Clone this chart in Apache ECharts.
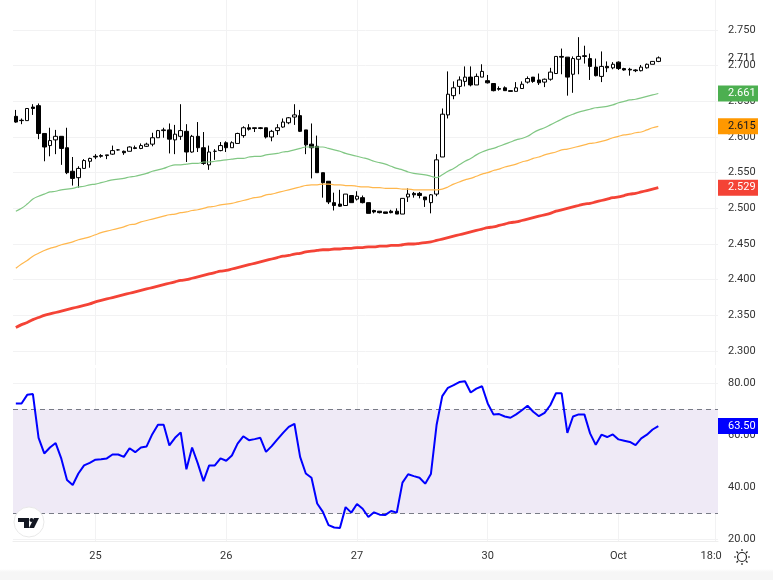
<!DOCTYPE html>
<html>
<head>
<meta charset="utf-8">
<title>Chart</title>
<script src="https://cdn.jsdelivr.net/npm/echarts@6/dist/echarts.min.js"></script>
<style>
  html, body { margin: 0; padding: 0; height: 100%; background: linear-gradient(#fff 569px, #f6f6f6 572px); }
  #chart { width: 773px; height: 580px; }
</style>
</head>
<body>
<div id="chart"></div>
<script>
// candles
var opens = [
  2.629,2.6235,2.623,2.642,2.644,2.605,2.588,2.596,2.601,2.585,
  2.552,2.543,2.556,2.566,2.573,2.574,2.574,2.576,2.582,2.580,
  2.580,2.585,2.584,2.587,2.590,2.599,2.609,2.610,2.596,2.601,
  2.608,2.579,2.601,2.585,2.561,2.580,2.581,2.592,2.585,2.591,
  2.602,2.613,2.613,2.613,2.613,2.600,2.609,2.614,2.620,2.628,
  2.630,2.610,2.590,2.587,2.550,2.538,2.508,2.506,2.504,2.518,
  2.513,2.515,2.508,2.497,2.496,2.495,2.496,2.496,2.492,2.516,
  2.521,2.521,2.516,2.508,2.520,2.572,2.631,2.658,2.671,2.678,
  2.684,2.673,2.684,2.679,2.675,2.668,2.669,2.665,2.664,2.668,
  2.677,2.684,2.680,2.677,2.681,2.689,2.713,2.712,2.688,2.709,
  2.714,2.710,2.698,2.685,2.699,2.697,2.705,2.696,2.695,2.694,
  2.693,2.697,2.702,2.706
];
var closes = [
  2.621,2.623,2.640,2.640,2.605,2.586,2.595,2.601,2.584,2.550,
  2.542,2.556,2.567,2.570,2.572,2.573,2.575,2.581,2.582,2.578,
  2.586,2.584,2.588,2.590,2.599,2.609,2.610,2.597,2.604,2.609,
  2.579,2.601,2.585,2.563,2.579,2.580,2.588,2.585,2.592,2.605,
  2.613,2.611,2.612,2.612,2.600,2.608,2.613,2.621,2.627,2.631,
  2.608,2.589,2.585,2.550,2.536,2.509,2.504,2.503,2.520,2.508,
  2.517,2.508,2.493,2.495,2.494,2.493,2.494,2.492,2.514,2.520,
  2.519,2.518,2.512,2.519,2.568,2.632,2.660,2.669,2.680,2.684,
  2.673,2.685,2.692,2.676,2.665,2.667,2.665,2.664,2.669,2.674,
  2.682,2.678,2.676,2.681,2.691,2.713,2.712,2.684,2.710,2.713,
  2.713,2.699,2.686,2.699,2.697,2.702,2.696,2.694,2.694,2.693,
  2.698,2.702,2.706,2.711
];
var lows = [
  2.620,2.618,2.623,2.631,2.597,2.566,2.573,2.576,2.561,2.548,
  2.532,2.529,2.556,2.557,2.569,2.571,2.569,2.575,2.581,2.575,
  2.580,2.583,2.583,2.586,2.587,2.599,2.599,2.577,2.576,2.596,
  2.565,2.578,2.579,2.561,2.554,2.568,2.580,2.579,2.585,2.591,
  2.599,2.609,2.607,2.611,2.598,2.594,2.603,2.613,2.618,2.617,
  2.607,2.576,2.542,2.550,2.515,2.506,2.497,2.502,2.504,2.508,
  2.511,2.507,2.493,2.493,2.493,2.493,2.493,2.492,2.492,2.509,
  2.515,2.514,2.502,2.493,2.517,2.572,2.626,2.653,2.660,2.671,
  2.671,2.673,2.684,2.675,2.664,2.665,2.665,2.664,2.664,2.668,
  2.675,2.676,2.673,2.670,2.679,2.689,2.688,2.658,2.662,2.688,
  2.703,2.680,2.685,2.677,2.691,2.695,2.694,2.693,2.686,2.691,
  2.692,2.696,2.702,2.705
];
var highs = [
  2.638,2.626,2.640,2.646,2.647,2.605,2.613,2.610,2.601,2.613,
  2.572,2.559,2.569,2.571,2.576,2.576,2.575,2.588,2.583,2.581,
  2.587,2.588,2.591,2.592,2.606,2.610,2.613,2.619,2.617,2.646,
  2.618,2.603,2.621,2.607,2.588,2.583,2.593,2.594,2.594,2.606,
  2.615,2.618,2.613,2.614,2.613,2.610,2.618,2.626,2.628,2.646,
  2.638,2.610,2.619,2.602,2.550,2.538,2.522,2.526,2.520,2.518,
  2.524,2.518,2.508,2.498,2.496,2.495,2.498,2.500,2.514,2.528,
  2.523,2.523,2.516,2.520,2.576,2.640,2.692,2.678,2.685,2.699,
  2.699,2.689,2.702,2.687,2.675,2.671,2.671,2.665,2.677,2.678,
  2.685,2.684,2.689,2.682,2.697,2.713,2.724,2.712,2.713,2.740,
  2.728,2.717,2.710,2.720,2.706,2.705,2.706,2.697,2.697,2.695,
  2.701,2.703,2.706,2.713
];
// moving averages
var maGreen = [
  2.496,2.500,2.506,2.513,2.517,2.520,2.523,2.524,2.526,2.527,
  2.528,2.530,2.531,2.533,2.534,2.536,2.538,2.540,2.541,2.542,
  2.544,2.545,2.547,2.549,2.552,2.554,2.556,2.559,2.561,2.561,
  2.562,2.563,2.563,2.565,2.565,2.566,2.567,2.568,2.569,2.570,
  2.570,2.572,2.573,2.573,2.575,2.576,2.577,2.579,2.580,2.582,
  2.584,2.586,2.586,2.586,2.586,2.584,2.582,2.580,2.577,2.575,
  2.573,2.571,2.569,2.566,2.564,2.562,2.559,2.556,2.554,2.551,
  2.549,2.548,2.547,2.545,2.543,2.547,2.552,2.556,2.561,2.566,
  2.570,2.575,2.579,2.582,2.584,2.587,2.590,2.593,2.596,2.598,
  2.601,2.606,2.610,2.613,2.617,2.621,2.625,2.629,2.632,2.635,
  2.637,2.639,2.641,2.642,2.643,2.645,2.648,2.650,2.652,2.653,
  2.655,2.657,2.659,2.661
];
var maOrange = [
  2.416,2.422,2.427,2.433,2.437,2.441,2.444,2.446,2.449,2.451,
  2.453,2.456,2.458,2.460,2.463,2.466,2.468,2.470,2.472,2.474,
  2.477,2.478,2.481,2.483,2.485,2.487,2.489,2.491,2.492,2.494,
  2.495,2.497,2.498,2.500,2.502,2.503,2.505,2.506,2.507,2.509,
  2.511,2.513,2.515,2.516,2.519,2.520,2.522,2.524,2.526,2.528,
  2.530,2.532,2.533,2.533,2.534,2.534,2.533,2.533,2.532,2.532,
  2.531,2.530,2.530,2.529,2.529,2.528,2.528,2.528,2.527,2.527,
  2.526,2.526,2.526,2.526,2.526,2.527,2.530,2.534,2.537,2.540,
  2.542,2.545,2.548,2.550,2.553,2.555,2.558,2.560,2.562,2.565,
  2.567,2.570,2.572,2.575,2.577,2.579,2.582,2.583,2.585,2.587,
  2.589,2.591,2.592,2.594,2.596,2.599,2.601,2.603,2.604,2.606,
  2.607,2.610,2.613,2.615
];
var maRed = [
  2.333,2.337,2.340,2.344,2.347,2.350,2.352,2.354,2.356,2.358,
  2.360,2.362,2.364,2.366,2.369,2.371,2.373,2.375,2.377,2.379,
  2.381,2.383,2.385,2.387,2.389,2.391,2.393,2.395,2.397,2.399,
  2.400,2.402,2.404,2.406,2.408,2.410,2.412,2.413,2.415,2.417,
  2.419,2.421,2.423,2.425,2.427,2.429,2.431,2.433,2.434,2.436,
  2.437,2.439,2.440,2.441,2.442,2.442,2.443,2.443,2.444,2.444,
  2.445,2.445,2.446,2.446,2.447,2.447,2.448,2.448,2.449,2.450,
  2.450,2.451,2.452,2.453,2.455,2.457,2.459,2.461,2.463,2.465,
  2.467,2.469,2.471,2.473,2.474,2.476,2.478,2.480,2.481,2.483,
  2.485,2.487,2.489,2.491,2.493,2.496,2.498,2.500,2.502,2.504,
  2.506,2.507,2.509,2.511,2.513,2.515,2.516,2.518,2.520,2.521,
  2.523,2.525,2.527,2.529
];
// RSI panel
var rsi = [
  72.2,72.2,75.5,75.8,59,53,55.3,57,51,42.8,
  40.9,45.3,48.4,49.4,50.6,50.8,51.1,52.6,52.6,51.7,
  55,53.5,55.3,55.7,60.4,64,64,56.1,59,61.1,
  46.9,55.3,49.2,42.4,48.4,48.4,51.1,50.2,52.2,56.8,
  59.6,58.1,58.5,59,53.6,55.8,58.4,60.9,63.2,64.4,
  51.7,45.3,43.7,33.8,30.6,25.5,24.6,24.4,32.4,30.3,
  33.6,31.8,28.6,30.4,29.5,29.4,30.9,30.3,41.8,45,
  44.3,43.7,41.4,45.1,63.9,75,78.2,79.2,80.4,80.7,
  76.4,77.9,78.8,72.2,68,68.1,67.2,66.7,68,69.6,
  71.3,69,67.3,68.6,71.5,76.1,76.1,60.9,67.2,68,
  68,60.7,56.3,60.2,59.3,60.3,58.4,57.9,57.4,56.2,
  58.8,60.2,62.2,63.5
];
var rsiBand = [30, 70];

// axes
var priceTicks = [2.3, 2.35, 2.4, 2.45, 2.5, 2.55, 2.6, 2.65, 2.7, 2.75];
var rsiTicks = [20, 40, 60, 80];
var timeTickIndex = [14, 37, 60, 83, 106, 123];
var timeTickLabels = ['25', '26', '27', '30', 'Oct', '18:0'];
var categories = [];
for (var c = 0; c < 124; c++) categories.push(c);

// last values shown as tags on the scale
var lastPrice = 2.711, lastGreen = 2.661, lastOrange = 2.615, lastRed = 2.529, lastRsi = 63.5;

var font = 'Roboto, "Noto Sans", sans-serif';
var gridColor = '#f2f2f3';
var textColor = '#333';

var candleData = opens.map(function (o, i) { return [o, closes[i], lows[i], highs[i]]; });
function isTimeTick(index) { return timeTickIndex.indexOf(index) >= 0; }

function tagStyle(bg, color) {
  return {
    backgroundColor: bg, color: color, width: 30, height: 16, align: 'left',
    padding: [0, 0, 0, 10], fontSize: 11, fontFamily: font, lineHeight: 16
  };
}

var sharedX = {
  type: 'category',
  data: categories,
  axisTick: { show: false },
  axisLine: { show: false },
  splitLine: {
    show: true, interval: function (i) { return isTimeTick(i); }, alignWithLabel: true,
    lineStyle: { color: gridColor, width: 1 }
  }
};

var myChart = echarts.init(document.getElementById('chart'), null, { renderer: 'canvas' });
myChart.setOption({
  animation: false,
  backgroundColor: 'transparent',
  grid: [
    { left: 13, width: 705, top: 0, height: 365 },
    { left: 13, width: 705, top: 368, height: 173 }
  ],
  xAxis: [
    Object.assign({}, sharedX, { gridIndex: 0, axisLabel: { show: false } }),
    Object.assign({}, sharedX, {
      gridIndex: 1,
      axisLine: { show: true, lineStyle: { color: '#eeeeee' } },
      axisLabel: {
        show: true, interval: function (i) { return isTimeTick(i); }, margin: 10,
        color: textColor, fontSize: 11, fontFamily: font,
        formatter: function (v) {
          var label = timeTickLabels[timeTickIndex.indexOf(+v)];
          return label === '18:0' ? '{cut|18:0}' : label;
        },
        rich: { cut: { color: textColor, fontSize: 11, fontFamily: font, padding: [0, 8, 0, 0] } }
      }
    })
  ],
  yAxis: [
    {
      gridIndex: 0, type: 'value', position: 'right', min: 2.2804, max: 2.7921, scale: true,
      axisLine: { show: false }, axisTick: { show: false, customValues: priceTicks },
      splitLine: { show: true, lineStyle: { color: gridColor } },
      axisLabel: {
        customValues: priceTicks, margin: 10, color: textColor, fontSize: 11, fontFamily: font,
        formatter: function (v) { return v.toFixed(3); }
      }
    },
    {
      // second scale only carries the last-value tags
      gridIndex: 0, type: 'value', position: 'right', min: 2.2804, max: 2.7921, scale: true,
      axisLine: { show: false }, axisTick: { show: false }, splitLine: { show: false },
      axisLabel: {
        customValues: [lastPrice, lastGreen, lastOrange, lastRed], margin: 0, hideOverlap: false,
        formatter: function (v) {
          var key = v === lastGreen ? 'g' : v === lastOrange ? 'o' : v === lastRed ? 'r' : 'p';
          return '{' + key + '|' + v.toFixed(3) + '}';
        },
        rich: {
          p: tagStyle('transparent', '#222'),
          g: tagStyle('#4caf50', '#fff'),
          o: tagStyle('#ff9800', '#131722'),
          r: tagStyle('#f44336', '#fff')
        }
      }
    },
    {
      gridIndex: 1, type: 'value', position: 'right', min: 19.4, max: 85.8, scale: true,
      axisLine: { show: false }, axisTick: { show: false, customValues: rsiTicks },
      splitLine: { show: true, lineStyle: { color: gridColor } },
      axisLabel: {
        customValues: rsiTicks, margin: 10, color: textColor, fontSize: 11, fontFamily: font,
        formatter: function (v) { return v.toFixed(2); }
      }
    },
    {
      gridIndex: 1, type: 'value', position: 'right', min: 19.4, max: 85.8, scale: true,
      axisLine: { show: false }, axisTick: { show: false }, splitLine: { show: false },
      axisLabel: {
        customValues: [lastRsi], margin: 0,
        formatter: function (v) { return '{b|' + v.toFixed(2) + '}'; },
        rich: { b: tagStyle('#0000ff', '#fff') }
      }
    }
  ],
  series: [
    {
      type: 'line', data: maRed, xAxisIndex: 0, yAxisIndex: 0, symbol: 'none', smooth: 0.4,
      lineStyle: { color: '#f44336', width: 2.8 }
    },
    {
      type: 'line', data: maOrange, xAxisIndex: 0, yAxisIndex: 0, symbol: 'none', smooth: 0.4,
      lineStyle: { color: '#ffb74d', width: 1.2 }
    },
    {
      type: 'line', data: maGreen, xAxisIndex: 0, yAxisIndex: 0, symbol: 'none', smooth: 0.4,
      lineStyle: { color: '#81c784', width: 1.2 }
    },
    {
      type: 'candlestick', data: candleData, xAxisIndex: 0, yAxisIndex: 0, barWidth: 4,
      itemStyle: { color: '#fff', color0: '#000', borderColor: '#000', borderColor0: '#000', borderWidth: 1 }
    },
    {
      type: 'line', data: rsi, xAxisIndex: 1, yAxisIndex: 2, symbol: 'none', z: 5,
      lineStyle: { color: '#0000ff', width: 2 },
      markArea: {
        silent: true,
        itemStyle: { color: '#efeaf6' },
        data: [[{ yAxis: rsiBand[1] }, { yAxis: rsiBand[0] }]]
      },
      markLine: {
        silent: true, symbol: 'none', label: { show: false },
        lineStyle: { color: '#787b86', type: [5, 4], width: 1 },
        data: [{ yAxis: rsiBand[1] }, { yAxis: rsiBand[0] }]
      }
    }
  ],
  graphic: [
    // logo badge
    { type: 'circle', shape: { cx: 29, cy: 522, r: 15 }, style: { fill: '#fff', stroke: '#e8e8e8', lineWidth: 1 }, z: 20 },
    { type: 'polygon', shape: { points: [[18, 518], [29, 518], [29, 528], [24, 528], [24, 522], [18, 522]] }, style: { fill: '#131722' }, z: 21 },
    { type: 'circle', shape: { cx: 31.5, cy: 520, r: 2 }, style: { fill: '#131722' }, z: 21 },
    { type: 'polygon', shape: { points: [[34, 518], [39, 518], [34, 528], [29, 528]] }, style: { fill: '#131722' }, z: 21 },
    // settings icon
    { type: 'circle', shape: { cx: 742, cy: 557, r: 4.5 }, style: { fill: 'none', stroke: '#222', lineWidth: 1.2 }, z: 20 },
    {
      type: 'polyline',
      shape: { points: [[742, 549], [742, 551]] }, style: { stroke: '#222', lineWidth: 1.2, fill: 'none' }, z: 20
    },
    { type: 'polyline', shape: { points: [[742, 563], [742, 565]] }, style: { stroke: '#222', lineWidth: 1.2, fill: 'none' }, z: 20 },
    { type: 'polyline', shape: { points: [[734, 557], [736, 557]] }, style: { stroke: '#222', lineWidth: 1.2, fill: 'none' }, z: 20 },
    { type: 'polyline', shape: { points: [[748, 557], [750, 557]] }, style: { stroke: '#222', lineWidth: 1.2, fill: 'none' }, z: 20 },
    { type: 'polyline', shape: { points: [[736.5, 551.5], [738, 553]] }, style: { stroke: '#222', lineWidth: 1.2, fill: 'none' }, z: 20 },
    { type: 'polyline', shape: { points: [[747.5, 551.5], [746, 553]] }, style: { stroke: '#222', lineWidth: 1.2, fill: 'none' }, z: 20 },
    { type: 'polyline', shape: { points: [[736.5, 562.5], [738, 561]] }, style: { stroke: '#222', lineWidth: 1.2, fill: 'none' }, z: 20 },
    { type: 'polyline', shape: { points: [[747.5, 562.5], [746, 561]] }, style: { stroke: '#222', lineWidth: 1.2, fill: 'none' }, z: 20 }
  ]
});
</script>
</body>
</html>
